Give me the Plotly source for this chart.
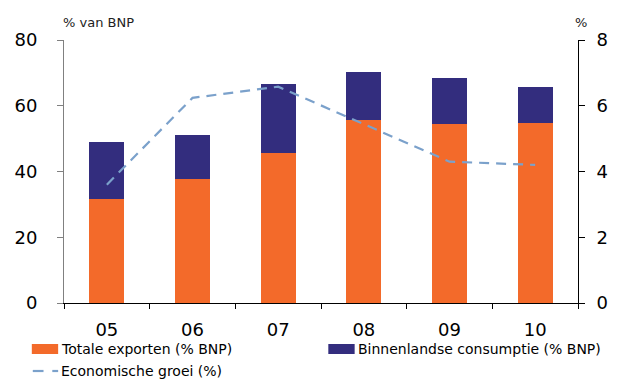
import plotly.graph_objects as go

# Data
years = ["05", "06", "07", "08", "09", "10"]
exports = [31.7, 37.8, 45.7, 55.7, 54.5, 54.8]          # Totale exporten (% BNP)
consumption = [17.3, 13.4, 21.0, 14.6, 14.0, 10.9]      # Binnenlandse consumptie (% BNP)
growth = [3.6, 6.24, 6.58, 5.45, 4.3, 4.2]              # Economische groei (%)
left_ticks = [0, 20, 40, 60, 80]
right_ticks = [0, 2, 4, 6, 8]

ORANGE = "#F36A2A"
NAVY = "#332D7E"
LINE = "#7BA1CB"
FONT = "DejaVu Sans, Verdana, sans-serif"

W, H = 620, 379
ML, MR, MT, MB = 64, 29, 40, 76
PW = W - ML - MR
PH = H - MT - MB


def px_x(p):
    return (p - ML) / PW


def px_y(p):
    return 1 - (p - MT) / PH


fig = go.Figure()
fig.add_trace(go.Bar(x=years, y=exports, name="Totale exporten (% BNP)",
                     marker=dict(color=ORANGE, line=dict(width=0))))
fig.add_trace(go.Bar(x=years, y=consumption, name="Binnenlandse consumptie (% BNP)",
                     marker=dict(color=NAVY, line=dict(width=0))))
fig.add_trace(go.Scatter(x=years, y=growth, name="Economische groei (%)", yaxis="y2",
                         mode="lines", line=dict(color=LINE, width=2.2, dash="10px,7px")))

fig.update_layout(
    width=W, height=H,
    margin=dict(l=ML, r=MR, t=MT, b=MB),
    paper_bgcolor="white", plot_bgcolor="white",
    barmode="stack", bargap=0.59,
    showlegend=False,
    font=dict(family=FONT, color="#000"),
    xaxis=dict(type="category", showgrid=False, showline=True, linecolor="#000", linewidth=1,
               ticks="outside", ticklen=5, tickcolor="#000", tickson="boundaries",
               tickfont=dict(size=18, family=FONT), ticklabelstandoff=10),
    yaxis=dict(range=[0, 80], tickvals=left_ticks, showgrid=False, zeroline=False,
               showline=True, linecolor="#808080", linewidth=1,
               ticks="outside", ticklen=6, tickcolor="#808080",
               tickfont=dict(size=18, family=FONT), ticklabelstandoff=16),
    yaxis2=dict(range=[0, 8], tickvals=right_ticks, overlaying="y", side="right",
                showgrid=False, zeroline=False, showline=True, linecolor="#000", linewidth=1,
                ticks="outside", ticklen=6, tickcolor="#000",
                tickfont=dict(size=18, family=FONT), ticklabelstandoff=8),
)

# Axis unit labels
fig.add_annotation(text="% van BNP", xref="paper", yref="paper", x=px_x(61), y=px_y(22),
                   xanchor="left", yanchor="middle", showarrow=False,
                   font=dict(size=13, family=FONT, color="#222"))
fig.add_annotation(text="%", xref="paper", yref="paper", x=px_x(586), y=px_y(22),
                   xanchor="left", yanchor="middle", showarrow=False,
                   font=dict(size=13, family=FONT, color="#222"))

# Legend drawn below the plot
legend_items = [
    ("bar", ORANGE, "Totale exporten (% BNP)", 31, 349),
    ("bar", NAVY, "Binnenlandse consumptie (% BNP)", 335, 349),
    ("line", LINE, "Economische groei (%)", 31, 371),
]
for kind, color, label, x0, yc in legend_items:
    if kind == "bar":
        fig.add_shape(type="rect", xref="paper", yref="paper",
                      x0=px_x(x0), x1=px_x(x0 + 27), y0=px_y(yc - 5), y1=px_y(yc + 5),
                      fillcolor=color, line=dict(width=0))
    else:
        fig.add_shape(type="line", xref="paper", yref="paper",
                      x0=px_x(x0 + 1), x1=px_x(x0 + 12), y0=px_y(yc), y1=px_y(yc),
                      line=dict(color=color, width=2.2))
        fig.add_shape(type="line", xref="paper", yref="paper",
                      x0=px_x(x0 + 21), x1=px_x(x0 + 27), y0=px_y(yc), y1=px_y(yc),
                      line=dict(color=color, width=2.2))
    fig.add_annotation(text=label, xref="paper", yref="paper", x=px_x(x0 + 28), y=px_y(yc),
                       xanchor="left", yanchor="middle", showarrow=False,
                       font=dict(size=14, family=FONT, color="#000"))

fig.write_html("out.html")
